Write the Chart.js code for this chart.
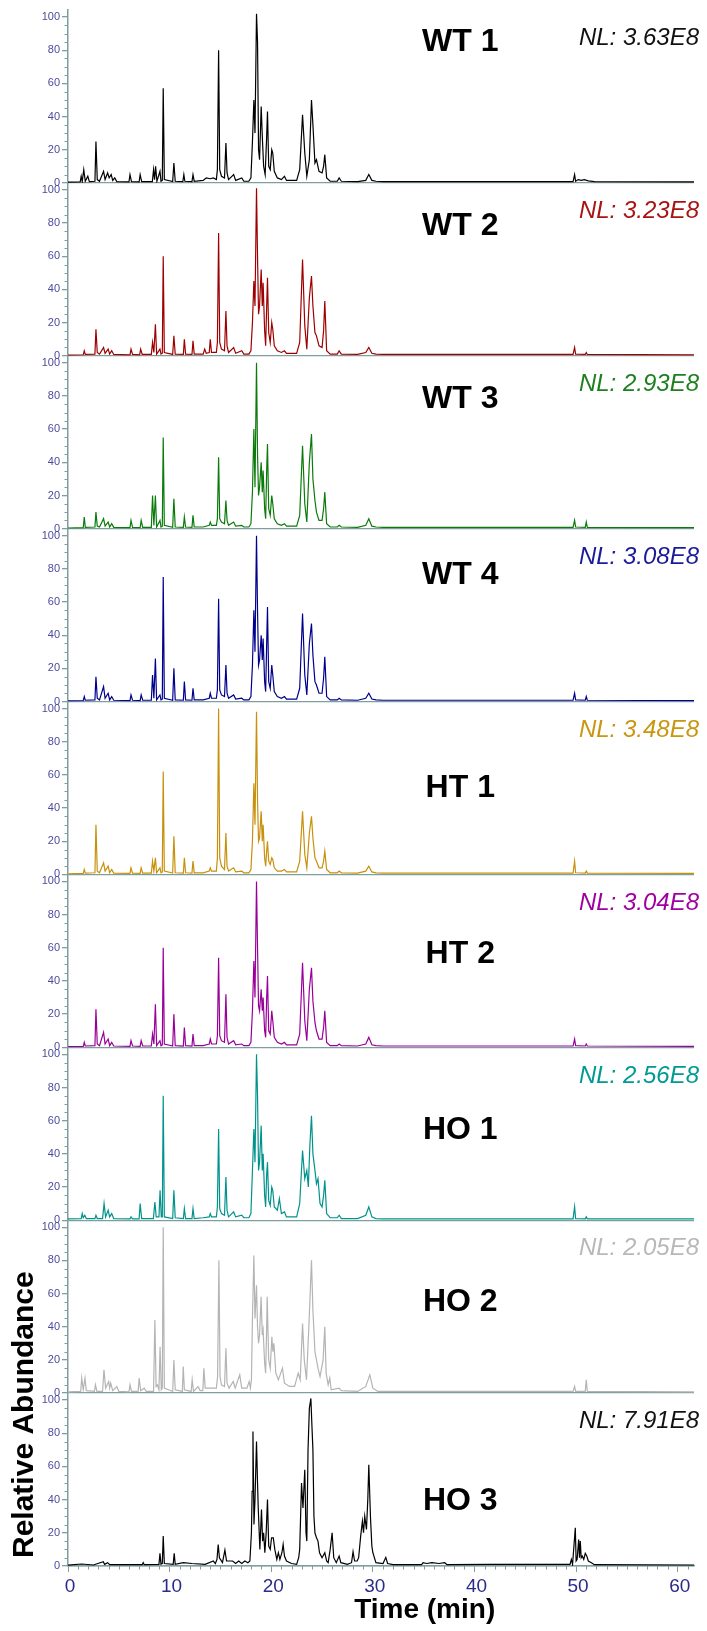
<!DOCTYPE html>
<html>
<head>
<meta charset="utf-8">
<title>Total ion chromatograms</title>
<script src="https://cdn.jsdelivr.net/npm/chart.js@4.4.0/dist/chart.umd.min.js"></script>
<style>
  html, body { margin: 0; padding: 0; background: #fff; }
  canvas { display: block; }
</style>
</head>
<body>
<canvas id="ticChart" width="707" height="1631"></canvas>
<script>
// sample names, normalisation levels and colours, top panel first
const samples = ['WT 1', 'WT 2', 'WT 3', 'WT 4', 'HT 1', 'HT 2', 'HO 1', 'HO 2', 'HO 3'];
const normLevels = ['NL: 3.63E8', 'NL: 3.23E8', 'NL: 2.93E8', 'NL: 3.08E8', 'NL: 3.48E8', 'NL: 3.04E8', 'NL: 2.56E8', 'NL: 2.05E8', 'NL: 7.91E8'];
const traceColors = ['#000000', '#9e0000', '#0b7a0b', '#00008c', '#c8900c', '#990099', '#00938c', '#b4b4b4', '#000000'];
const nlColors = ['#111111', '#a81414', '#1f7f1f', '#1a1a9a', '#c8960f', '#a000a0', '#009a94', '#b8b8b8', '#111111'];
const yTicks = [0, 20, 40, 60, 80, 100];
const xTicks = [0, 10, 20, 30, 40, 50, 60];

// [time (min), relative abundance (%)]
const wt1 = [[0,0.4],[1.2,0.6],[1.3,4],[1.4,0.8],[1.55,8],[1.7,1],[1.95,4],[2.1,0.8],[2.65,1],[2.75,25],[2.88,2],[3.1,1],[3.5,7],[3.65,2],[3.9,6],[4.05,3],[4.25,5],[4.4,1.5],[4.6,3],[4.8,0.8],
  [6.0,0.6],[6.1,5],[6.25,0.8],[7.0,0.6],[7.1,5],[7.25,0.8],[8.3,0.8],[8.42,8],[8.52,2],[8.62,10],[8.75,1],[9.05,7],[9.15,1],[9.28,1.5],[9.37,57],[9.48,2],[10.3,0.8],[10.42,12],[10.55,1],
  [11.3,0.8],[11.4,5],[11.5,1],[12.2,0.8],[12.3,5],[12.42,1],[13.3,1.5],[13.6,3],[14.0,2.5],[14.3,3],[14.6,2],[14.7,8],[14.82,80],[14.93,8],[15.1,4],[15.4,3],[15.54,24],[15.65,6],[15.8,2],[16.3,5],[16.5,1.5],[17.1,3],[17.3,1],[17.8,1],
  [18.0,3],[18.15,25],[18.29,50],[18.4,30],[18.55,102],[18.65,85],[18.75,20],[18.85,14],[19.01,46],[19.12,28],[19.25,10],[19.4,5],[19.55,28],[19.63,43],[19.75,10],[19.9,8],[20.05,20],[20.15,18],[20.3,7],[20.6,3],[21.0,2],[21.3,4],[21.5,1.5],[22.5,1.5],
  [22.8,8],[23.08,41],[23.3,18],[23.5,4],[23.75,14],[23.96,50],[24.1,35],[24.3,12],[24.45,14],[24.7,7],[25.0,6],[25.15,10],[25.27,17],[25.45,3],[25.8,1],[26.5,1],[26.68,3],[26.9,1],[28.5,0.8],[29.3,1.5],[29.6,5],[29.9,1.5],[30.3,1],[31,0.8],
  [49.7,0.8],[49.85,5],[49.95,1],[50.2,2],[50.5,1.5],[50.8,2],[51.2,1.2],[51.8,0.8],[61.6,0.6]];

const wt2 = [[0,0.4],[1.5,0.6],[1.6,3],[1.7,0.8],[2.65,1],[2.75,16],[2.88,2],[3.1,1],[3.5,5],[3.65,1.5],[3.95,4],[4.1,1],[4.3,3],[4.5,0.8],
  [6.1,0.6],[6.2,4],[6.35,0.8],[7.05,0.6],[7.15,4],[7.3,0.8],[8.2,0.8],[8.32,8],[8.45,2],[8.6,19],[8.72,1],[9.05,4],[9.15,1],[9.28,1.5],[9.37,60],[9.48,2],[10.3,0.8],[10.42,12],[10.55,1],
  [11.35,0.8],[11.45,10],[11.57,1],[12.2,0.8],[12.3,9],[12.42,1],[13.3,1],[13.45,4],[13.6,1.5],[13.9,2],[14.0,10],[14.12,2],[14.6,2],[14.7,8],[14.82,74],[14.93,8],[15.1,4],[15.4,3],[15.54,27],[15.65,6],[15.8,2],[16.3,5],[16.5,1.5],[17.1,3],[17.3,1],[17.8,1],
  [18.0,3],[18.15,20],[18.29,45],[18.4,30],[18.55,101],[18.65,60],[18.75,25],[18.85,30],[19.01,52],[19.12,30],[19.2,44],[19.35,15],[19.45,6],[19.55,30],[19.63,47],[19.75,14],[19.9,8],[20.05,20],[20.15,16],[20.3,6],[20.6,3],[21.0,2],[21.3,3],[21.5,1.5],[22.5,1.5],
  [22.8,8],[23.08,58],[23.3,18],[23.5,4],[23.75,35],[23.96,48],[24.1,30],[24.3,14],[24.45,12],[24.7,6],[25.0,5],[25.15,15],[25.27,33],[25.45,3],[25.8,1],[26.5,1],[26.68,3],[26.9,1],[28.5,0.8],[29.3,2],[29.6,5],[29.9,1.5],[30.3,1],[31,0.8],
  [49.7,0.8],[49.85,5],[49.95,1],[50.9,0.8],[51,2],[51.1,0.8],[61.6,0.6]];

const wt3 = [[0,0.4],[1.5,0.6],[1.6,7],[1.7,0.8],[2.65,1],[2.75,10],[2.88,1.5],[3.1,1],[3.5,6],[3.65,1.5],[3.95,4],[4.1,1],[4.3,3],[4.5,0.8],
  [6.1,0.6],[6.2,5],[6.35,0.8],[7.1,0.6],[7.2,5],[7.35,0.8],[8.2,0.8],[8.32,20],[8.45,2],[8.6,20],[8.72,1],[9.05,5],[9.15,1],[9.28,1.5],[9.37,55],[9.48,2],[10.3,0.8],[10.42,18],[10.55,1],
  [11.35,0.8],[11.45,7],[11.57,1],[12.2,0.8],[12.3,8],[12.42,1],[13.3,1],[13.9,2],[14.0,4],[14.12,2],[14.6,2],[14.7,6],[14.82,43],[14.93,6],[15.1,4],[15.4,3],[15.54,17],[15.65,5],[15.8,2],[16.3,4],[16.5,1.5],[17.1,2],[17.3,1],[17.8,1],
  [18.0,3],[18.15,22],[18.29,60],[18.4,25],[18.55,100],[18.65,45],[18.75,20],[18.85,25],[19.01,40],[19.12,22],[19.2,35],[19.35,12],[19.45,6],[19.55,35],[19.63,51],[19.75,12],[19.9,8],[20.05,20],[20.15,15],[20.3,6],[20.6,3],[21.0,2],[21.3,3],[21.5,1.5],[22.5,1.5],
  [22.8,8],[23.08,50],[23.3,15],[23.5,4],[23.75,40],[23.96,57],[24.1,30],[24.3,17],[24.45,10],[24.7,5],[25.0,5],[25.15,12],[25.27,22],[25.45,3],[25.8,1],[26.5,1],[26.68,2],[26.9,1],[28.5,0.8],[29.3,2],[29.6,6],[29.9,1.5],[30.3,1],[31,0.8],
  [49.7,0.8],[49.85,5],[49.95,1],[50.9,0.8],[51,4],[51.1,0.8],[61.6,0.6]];

const wt4 = [[0,0.4],[1.5,0.6],[1.6,3],[1.7,0.8],[2.65,1],[2.75,15],[2.88,2],[3.1,1],[3.5,9],[3.65,2],[3.95,5],[4.1,1],[4.3,3],[4.5,0.8],
  [6.1,0.6],[6.2,4],[6.35,0.8],[7.1,0.6],[7.2,4],[7.35,0.8],[8.2,0.8],[8.32,16],[8.45,2],[8.6,26],[8.72,1],[9.05,4],[9.15,1],[9.28,1.5],[9.37,75],[9.48,2],[10.3,0.8],[10.42,20],[10.55,1],
  [11.35,0.8],[11.45,12],[11.57,1],[12.2,0.8],[12.3,8],[12.42,1],[13.3,1],[13.9,2],[14.0,5],[14.12,2],[14.6,2],[14.7,7],[14.82,62],[14.93,7],[15.1,4],[15.4,3],[15.54,22],[15.65,5],[15.8,2],[16.3,4],[16.5,1.5],[17.1,2],[17.3,1],[17.8,1],
  [18.0,3],[18.15,22],[18.29,55],[18.4,30],[18.55,100],[18.65,55],[18.75,22],[18.85,25],[19.01,40],[19.12,25],[19.2,38],[19.35,12],[19.45,6],[19.55,35],[19.63,57],[19.75,12],[19.9,8],[20.05,22],[20.15,16],[20.3,6],[20.6,3],[21.0,2],[21.3,3],[21.5,1.5],[22.5,1.5],
  [22.8,8],[23.08,53],[23.3,16],[23.5,4],[23.75,35],[23.96,47],[24.1,28],[24.3,12],[24.45,10],[24.7,5],[25.0,5],[25.15,14],[25.27,27],[25.45,3],[25.8,1],[26.5,1],[26.68,2],[26.9,1],[28.5,0.8],[29.3,2],[29.6,5],[29.9,1.5],[30.3,1],[31,0.8],
  [49.7,0.8],[49.85,5],[49.95,1],[50.9,0.8],[51,3],[51.1,0.8],[61.6,0.6]];

const ht1 = [[0,0.4],[1.5,0.6],[1.6,3],[1.7,0.8],[2.65,1],[2.75,30],[2.88,2],[3.1,1],[3.5,7],[3.65,2],[3.95,5],[4.1,1],[4.3,3],[4.5,0.8],
  [6.1,0.6],[6.2,4],[6.35,0.8],[7.1,0.6],[7.2,4],[7.35,0.8],[8.2,0.8],[8.32,8],[8.45,2],[8.6,10],[8.72,1],[9.05,4],[9.15,1],[9.28,1.5],[9.37,62],[9.48,2],[10.3,0.8],[10.42,23],[10.55,1],
  [11.35,0.8],[11.45,10],[11.57,1],[12.2,0.8],[12.3,8],[12.42,1],[13.3,1],[13.9,2],[14.0,4],[14.12,2],[14.6,2],[14.7,10],[14.82,100],[14.93,10],[15.1,5],[15.4,3],[15.54,25],[15.65,5],[15.8,2],[16.3,4],[16.5,1.5],[17.1,2],[17.3,1],[17.8,1],
  [18.0,3],[18.15,20],[18.29,55],[18.4,30],[18.55,98],[18.65,45],[18.75,20],[18.85,22],[19.01,38],[19.12,20],[19.2,30],[19.35,10],[19.45,5],[19.55,14],[19.63,20],[19.75,8],[19.9,6],[20.05,10],[20.15,9],[20.3,4],[20.6,2],[21.0,2],[21.3,3],[21.5,1.5],[22.5,1.5],
  [22.8,8],[23.08,38],[23.3,12],[23.5,4],[23.75,25],[23.96,35],[24.1,22],[24.3,10],[24.45,8],[24.7,4],[25.0,4],[25.15,8],[25.27,14],[25.45,3],[25.8,1],[26.5,1],[26.68,2],[26.9,1],[28.5,0.8],[29.3,2],[29.6,5],[29.9,1.5],[30.3,1],[31,0.8],
  [49.7,0.8],[49.85,8],[49.95,1],[50.9,0.8],[51,2],[51.1,0.8],[61.6,0.6]];

const ht2 = [[0,0.4],[1.5,0.6],[1.6,3],[1.7,0.8],[2.65,1],[2.75,23],[2.88,2],[3.1,1],[3.5,9],[3.65,2],[3.95,5],[4.1,1],[4.3,3],[4.5,0.8],
  [6.1,0.6],[6.2,4],[6.35,0.8],[7.1,0.6],[7.2,4],[7.35,0.8],[8.2,0.8],[8.32,8],[8.45,2],[8.6,26],[8.72,1],[9.05,4],[9.15,1],[9.28,1.5],[9.37,60],[9.48,2],[10.3,0.8],[10.42,20],[10.55,1],
  [11.35,0.8],[11.45,12],[11.57,1],[12.2,0.8],[12.3,8],[12.42,1],[13.3,1],[13.9,2],[14.0,5],[14.12,2],[14.6,2],[14.7,7],[14.82,54],[14.93,7],[15.1,4],[15.4,3],[15.54,32],[15.65,6],[15.8,2],[16.3,4],[16.5,1.5],[17.1,2],[17.3,1],[17.8,1],
  [18.0,3],[18.15,22],[18.29,52],[18.4,30],[18.55,100],[18.65,60],[18.75,25],[18.85,22],[19.01,35],[19.12,22],[19.2,30],[19.35,10],[19.45,6],[19.55,30],[19.63,43],[19.75,10],[19.9,8],[20.05,22],[20.15,16],[20.3,6],[20.6,3],[21.0,2],[21.3,3],[21.5,1.5],[22.5,1.5],
  [22.8,8],[23.08,51],[23.3,16],[23.5,4],[23.75,35],[23.96,48],[24.1,28],[24.3,15],[24.45,10],[24.7,5],[25.0,5],[25.15,12],[25.27,22],[25.45,3],[25.8,1],[26.5,1],[26.68,2],[26.9,1],[28.5,0.8],[29.3,2],[29.6,6],[29.9,1.5],[30.3,1],[31,0.8],
  [49.7,0.8],[49.85,5],[49.95,1],[50.9,0.8],[51,2],[51.1,0.8],[61.6,0.6]];

const ho1 = [[0,0.8],[1.3,1],[1.4,4],[1.5,1.5],[1.65,3],[1.8,1],[2.65,1],[2.75,3],[2.88,1],[3.4,1],[3.55,10],[3.7,2],[3.95,6],[4.1,2],[4.3,4],[4.5,1],
  [6.1,0.8],[6.2,2],[6.35,0.8],[7.0,0.8],[7.1,10],[7.25,1],[8.4,1],[8.55,11],[8.68,2],[8.95,2],[9.06,18],[9.18,2],[9.28,2],[9.37,75],[9.48,2],[10.3,1],[10.42,18],[10.55,1.5],
  [11.35,1],[11.45,7],[11.57,1],[12.2,1],[12.3,7],[12.42,1],[13.3,1.5],[13.9,2],[14.0,4],[14.12,2],[14.6,2],[14.7,8],[14.82,55],[14.93,7],[15.1,4],[15.4,3],[15.54,26],[15.65,6],[15.8,2],[16.3,5],[16.5,2],[17.1,3],[17.3,1.5],[17.8,1.5],
  [18.0,4],[18.15,30],[18.29,55],[18.4,35],[18.55,100],[18.65,75],[18.75,30],[18.85,35],[19.01,57],[19.12,30],[19.2,40],[19.35,15],[19.45,8],[19.55,28],[19.63,35],[19.75,12],[19.9,9],[20.05,20],[20.15,18],[20.3,8],[20.6,6],[20.8,13],[21.0,4],[21.3,5],[21.5,2],[22.5,2],
  [22.8,10],[23.08,42],[23.3,25],[23.5,30],[23.65,20],[23.8,45],[23.96,63],[24.1,40],[24.3,30],[24.45,22],[24.6,25],[24.8,10],[25.0,8],[25.15,15],[25.27,24],[25.45,4],[25.8,1.5],[26.5,1.5],[26.68,3],[26.9,1],[28.5,1],[29.3,3],[29.6,8],[29.9,2],[30.3,1],[31,0.8],
  [49.7,0.8],[49.85,8],[49.95,1],[50.9,0.8],[51,2],[51.1,0.8],[61.6,0.8]];

const ho2 = [[0,0.8],[1.25,1],[1.35,9],[1.5,2],[1.67,9],[1.8,1.5],[2.6,1],[2.7,5],[2.85,1],[3.4,1],[3.54,14],[3.7,3],[4.0,7],[4.1,3],[4.2,6],[4.4,1.5],[4.8,4],[5.0,1],
  [6.0,0.8],[6.1,5],[6.25,1],[6.9,1],[7.0,9],[7.15,1.5],[7.5,3],[7.7,1],[8.42,1],[8.55,44],[8.67,4],[8.8,5],[8.95,2],[9.06,28],[9.18,2],[9.28,3],[9.37,100],[9.48,3],[10.3,1],[10.42,20],[10.55,2],
  [11.25,1],[11.34,16],[11.45,2],[12.12,1],[12.22,8],[12.35,1],[12.8,4],[13.0,1.5],[13.27,1.5],[13.37,15],[13.5,3],[13.9,3],[14.3,3],[14.6,3],[14.72,10],[14.85,80],[14.96,10],[15.1,5],[15.4,4],[15.54,27],[15.65,6],[15.85,3],[16.26,7],[16.45,3],[16.9,11],[17.1,3],[17.6,3],[17.83,7],[17.95,3],
  [18.05,8],[18.15,45],[18.29,83],[18.4,45],[18.55,65],[18.65,40],[18.75,30],[18.85,35],[19.0,58],[19.12,35],[19.2,38],[19.35,18],[19.45,12],[19.55,40],[19.6,58],[19.75,20],[19.9,15],[20.06,34],[20.16,25],[20.26,30],[20.45,12],[20.7,8],[21.1,15],[21.3,6],[21.8,4],[22.3,4],[22.65,12],[22.85,8],
  [23.08,42],[23.25,20],[23.47,8],[23.7,40],[23.96,80],[24.1,50],[24.3,25],[24.45,20],[24.6,15],[24.8,10],[25.1,20],[25.27,40],[25.4,12],[25.6,5],[25.76,9],[25.9,2],[26.68,3],[26.9,1.5],[28.5,1],[29.3,4],[29.7,11],[30.0,3],[30.5,1],[31,1],
  [49.7,1],[49.85,4],[49.95,1],[50.9,1],[51,8],[51.1,1],[61.6,0.8]];

const ho3 = [[0,0.5],[1.35,1.2],[2.5,0.6],[3.47,2.6],[3.6,1],[3.9,2],[4.1,0.8],[7.3,0.8],[7.4,2],[7.5,0.8],[8.95,1],[9.05,7.6],[9.15,1],[9.28,1.5],[9.37,18],[9.48,1.5],[10.35,1],[10.45,7.6],[10.55,1],[11.34,2],[12.2,1.5],[13.5,1],[14.3,3],[14.5,1.5],[14.66,4],[14.78,13],[14.9,5],[15.2,2],[15.44,9.6],[15.6,3],[16.2,3],[16.5,1.5],[16.8,3],[17.1,1.5],[17.4,3],[17.7,2],[17.9,3],
  [18.05,20],[18.12,45],[18.2,81],[18.3,25],[18.4,40],[18.55,75],[18.65,50],[18.72,35],[18.88,10],[19.04,34],[19.15,15],[19.25,20],[19.37,8],[19.5,20],[19.63,40],[19.75,12],[19.9,10],[20.03,17],[20.2,17],[20.35,10],[20.55,4],[20.7,8],[20.85,4],[21.05,8],[21.17,13],[21.3,6],[21.5,3],[22.0,1.5],[22.5,1],
  [22.7,5],[22.8,10],[22.98,50],[23.12,35],[23.3,58],[23.42,20],[23.5,15],[23.62,70],[23.75,95],[23.9,101],[24.0,85],[24.1,70],[24.2,30],[24.3,20],[24.45,17],[24.6,15],[24.75,8],[25.0,5],[25.27,8],[25.45,3],[25.6,2],[25.8,10],[25.99,20],[26.15,5],[26.4,2],[26.68,6],[26.85,2],[27.5,1],[27.9,2],[28.05,8.6],[28.2,3],[28.45,3],[28.6,5],[28.8,18],[28.97,27],[29.08,20],[29.2,30],[29.37,22],[29.5,40],[29.6,61],[29.76,30],[29.9,12],[30.0,8],[30.3,2],[31.0,1.5],[31.27,5.2],[31.45,1.5],[32,0.8],
  [34.8,0.8],[34.94,2],[35.3,1.5],[35.8,2],[36.5,1.5],[37.07,2],[37.3,0.8],[41.6,1],[48.05,1],[49.4,1],[49.53,4],[49.65,1],[49.92,23],[50.0,3],[50.1,4],[50.25,16],[50.33,5],[50.41,15],[50.5,5],[50.6,6],[50.75,4],[50.9,7.6],[51.05,6],[51.2,3],[51.5,2],[51.8,0.8],[61.6,0.6]];

const traces = [wt1, wt2, wt3, wt4, ht1, ht2, ho1, ho2, ho3];

const fontFamily = '"Liberation Sans", Arial, Helvetica, sans-serif';
const axisColor = '#7f9e9e';
const nameLevels = [85, 78, 78, 76, 52, 56, 54, 55, 39]; // where each sample name sits, in % of its own panel

// one linear x axis at the bottom and a stack of nine y axes on the left
const scales = {
  x: {
    type: 'linear',
    position: 'bottom',
    min: 0,
    max: 61.6,
    border: { color: axisColor, width: 1.5 },
    grid: { drawOnChartArea: false, color: axisColor, tickLength: 6, lineWidth: 1 },
    afterBuildTicks: s => { s.ticks = xTicks.map(v => ({ value: v })); },
    ticks: { color: '#2b2b8c', font: { family: fontFamily, size: 19 }, padding: 3, labelOffset: 2, maxRotation: 0, autoSkip: false },
    afterFit: s => { s.height = 65; }
  }
};
samples.forEach((name, i) => {
  scales['y' + i] = {
    type: 'linear',
    position: 'left',
    stack: 'panels',
    weight: samples.length - i,
    min: 0,
    max: 104.2,
    border: { color: axisColor, width: 1.5 },
    grid: {
      color: c => (c.tick && c.tick.value === 0 ? axisColor : 'rgba(0,0,0,0)'),
      tickColor: axisColor,
      tickLength: 6,
      lineWidth: 1.3
    },
    afterBuildTicks: s => { s.ticks = yTicks.map(v => ({ value: v })); },
    ticks: { color: '#4b4b9b', font: { family: fontFamily, size: 11 }, padding: 2 },
    afterFit: s => { s.width = 68; }
  };
});

// minor ticks, sample names, NL values and the axis titles
const panelText = {
  id: 'panelText',
  afterDraw(chart) {
    const ctx = chart.ctx;
    const area = chart.chartArea;
    const xs = chart.scales.x;
    ctx.save();
    ctx.strokeStyle = axisColor;
    ctx.lineWidth = 1;
    ctx.beginPath();
    for (let t = 1; t <= 61; t++) {
      if (t % 10 === 0) continue;
      const px = Math.round(xs.getPixelForValue(t)) + 0.5;
      ctx.moveTo(px, area.bottom);
      ctx.lineTo(px, area.bottom + 3.5);
    }
    samples.forEach((name, i) => {
      const ys = chart.scales['y' + i];
      for (let v = 5; v < 100; v += 5) {
        if (v % 20 === 0) continue;
        const py = Math.round(ys.getPixelForValue(v)) + 0.5;
        ctx.moveTo(area.left - 3.5, py);
        ctx.lineTo(area.left, py);
      }
    });
    ctx.stroke();

    samples.forEach((name, i) => {
      const ys = chart.scales['y' + i];
      ctx.textBaseline = 'middle';
      ctx.font = 'bold 32px ' + fontFamily;
      ctx.fillStyle = '#000';
      ctx.textAlign = 'center';
      ctx.fillText(name, xs.getPixelForValue(38.6), ys.getPixelForValue(nameLevels[i]));
      ctx.font = 'italic 24px ' + fontFamily;
      ctx.fillStyle = nlColors[i];
      ctx.textAlign = 'right';
      ctx.fillText(normLevels[i], area.right + 5, ys.getPixelForValue(87));
    });

    ctx.fillStyle = '#000';
    ctx.font = 'bold 28px ' + fontFamily;
    ctx.textAlign = 'center';
    ctx.textBaseline = 'alphabetic';
    ctx.fillText('Time (min)', xs.getPixelForValue(35.1), area.bottom + 52);

    ctx.translate(25, area.bottom - 8);
    ctx.rotate(-Math.PI / 2);
    ctx.font = 'bold 30px ' + fontFamily;
    ctx.textAlign = 'left';
    ctx.textBaseline = 'middle';
    ctx.fillText('Relative Abundance', 0, 0);
    ctx.restore();
  }
};

new Chart(document.getElementById('ticChart').getContext('2d'), {
  type: 'line',
  data: {
    datasets: traces.map((trace, i) => ({
      label: samples[i],
      data: trace.map(([t, v]) => ({ x: t, y: v })),
      yAxisID: 'y' + i,
      borderColor: traceColors[i],
      borderWidth: 1.2,
      pointRadius: 0,
      fill: false,
      tension: 0
    }))
  },
  options: {
    responsive: false,
    animation: false,
    layout: { padding: { top: 10, right: 13, left: 0, bottom: 0 } },
    plugins: { legend: { display: false }, tooltip: { enabled: false } },
    scales: scales
  },
  plugins: [panelText]
});
</script>
</body>
</html>
